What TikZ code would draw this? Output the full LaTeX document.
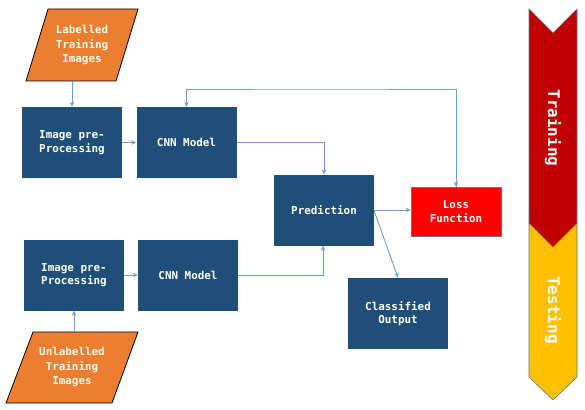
\documentclass[tikz,border=0pt]{standalone}
\usepackage{fontspec}
\newfontfamily\boxfont{DejaVu Sans Mono}
\usetikzlibrary{arrows.meta}
\definecolor{boxblue}{HTML}{1F4E79}
\definecolor{paraorange}{HTML}{ED7D31}
\definecolor{arrblue}{HTML}{6B9BD1}
\definecolor{chevred}{HTML}{C00000}
\definecolor{chevyellow}{HTML}{FFC000}
\definecolor{chevborder}{HTML}{6F6F7F}
\tikzset{
  bluebox/.style={fill=boxblue, text=white, minimum width=100pt, minimum height=71pt,
    inner sep=0pt, align=center, font=\boxfont\bfseries\fontsize{10.9}{13.5}\selectfont},
  lossbox/.style={fill=red, draw=chevborder, line width=0.6pt, text=white, minimum width=90pt, minimum height=49pt,
    inner sep=0pt, align=center, font=\boxfont\bfseries\fontsize{10.9}{13.5}\selectfont},
  paratext/.style={text=white!92!yellow, align=center, inner sep=0pt,
    font=\boxfont\bfseries\fontsize{10.9}{14.5}\selectfont},
  parashape/.style={fill=paraorange, draw=black, line width=0.8pt},
  conn/.style={draw=arrblue, line width=0.9pt, -{Stealth[length=5pt,width=4.5pt]}},
  chevtext/.style={text=white, rotate=-90, font=\boxfont\bfseries\fontsize{16}{18}\selectfont},
  chevshape/.style={draw=chevborder, line width=0.6pt}
}
\begin{document}
\begin{tikzpicture}[x=1pt,y=-1pt]
\useasboundingbox (0,0) rectangle (585,409);
% parallelograms
\path[parashape] (48,9) -- (138,9) -- (116,81) -- (26,81) -- cycle;
\node[paratext] (lab) at (82,45) {Labelled\\Training\\Images};
\coordinate (labbot) at (72,81);
\path[parashape] (33,332) -- (138,332) -- (112,403) -- (6,403) -- cycle;
\node[paratext] (unlab) at (72,367) {Unlabelled\\Training\\Images};
\coordinate (unlabtop) at (74,332);
% boxes
\node[bluebox] (pre1) at (72,142.5) {Image pre-\\Processing};
\node[bluebox] (cnn1) at (186.5,142.5) {CNN Model};
\node[bluebox] (pred) at (324,210) {Prediction};
\node[lossbox] (loss) at (456,211.5) {Loss\\Function};
\node[bluebox] (pre2) at (74,275) {Image pre-\\Processing};
\node[bluebox] (cnn2) at (188,275) {CNN Model};
\node[bluebox] (cls) at (398,313.5) {Classified\\Output};
% connectors
\coordinate (loop) at (320,89);
\draw[conn] (labbot) -- (labbot |- pre1.north);
\draw[conn] (pre1) -- (cnn1);
\draw[conn] (cnn1.east) -| (pred.north);
\draw[conn] (loss.north) |- (loop) -| (cnn1.north);
\draw[conn] (loop -| loss.north) -- (loss.north);
\draw[conn] (pred.east) -- (pred.east -| loss.west);
\draw[conn] ([yshift=-1pt]pred.east) -- (cls.north);
\draw[conn] (unlabtop) -- (unlabtop |- pre2.south);
\draw[conn] (pre2) -- (cnn2);
\draw[conn] (cnn2.east) -| ([xshift=-1pt]pred.south);
% chevrons
\path[chevshape, fill=chevyellow] (529,223) -- (553,247) -- (577,223) -- (577,377) -- (553,400) -- (529,377) -- cycle;
\path[chevshape, fill=chevred] (529,9) -- (553,33) -- (577,9) -- (577,223) -- (553,247) -- (529,223) -- cycle;
\node[chevtext] (train) at (553,128) {Training};
\node[chevtext] (test) at (553,310) {Testing};
\end{tikzpicture}
\end{document}
